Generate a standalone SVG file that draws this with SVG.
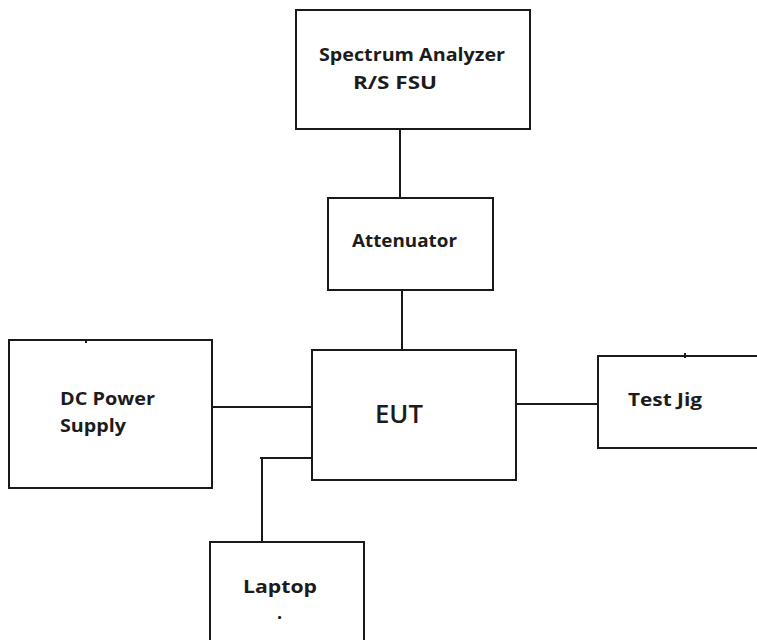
<svg xmlns="http://www.w3.org/2000/svg" width="757" height="640" viewBox="0 0 757 640">
  <style>
    .box { fill: #ffffff; stroke: #1a1a1a; stroke-width: 2; }
    .wire { fill: none; stroke: #1a1a1a; stroke-width: 2; }
    .lbl { font-family: "Open Sans", "Liberation Sans", sans-serif; font-weight: bold; font-size: 18px; fill: #1c1c1c; }
    .big { font-family: "Open Sans", "Liberation Sans", sans-serif; font-weight: 600; font-size: 25px; fill: #1c1c1c; }
  </style>
  <rect width="757" height="640" fill="#ffffff"/>

  <g id="connectors">
    <line class="wire" x1="400" y1="129" x2="400" y2="198"/>
    <line class="wire" x1="402" y1="290" x2="402" y2="350"/>
    <line class="wire" x1="212" y1="407" x2="314" y2="407"/>
    <line class="wire" x1="516" y1="404" x2="600" y2="404"/>
    <polyline class="wire" points="312,458 262,458 262,542"/>
    <line class="wire" x1="260" y1="458" x2="264" y2="458"/>
  </g>

  <g id="spectrum-analyzer">
    <rect class="box" x="296" y="10" width="234" height="119"/>
    <text class="lbl" x="319" y="61" textLength="186" lengthAdjust="spacingAndGlyphs">Spectrum Analyzer</text>
    <text class="lbl" x="353" y="89" textLength="84" lengthAdjust="spacingAndGlyphs">R/S FSU</text>
  </g>

  <g id="attenuator">
    <rect class="box" x="328" y="198" width="165" height="92"/>
    <text class="lbl" x="352" y="247" textLength="105" lengthAdjust="spacingAndGlyphs">Attenuator</text>
  </g>

  <g id="dc-power-supply">
    <rect class="box" x="9" y="340" width="203" height="148"/>
    <line class="wire" x1="86" y1="340" x2="86" y2="343"/>
    <text class="lbl" x="60" y="405" textLength="95" lengthAdjust="spacingAndGlyphs">DC Power</text>
    <text class="lbl" x="60" y="432" textLength="66" lengthAdjust="spacingAndGlyphs">Supply</text>
  </g>

  <g id="eut">
    <rect class="box" x="312" y="350" width="204" height="130"/>
    <text class="big" x="375" y="423" textLength="48" lengthAdjust="spacingAndGlyphs">EUT</text>
  </g>

  <g id="test-jig">
    <path class="box" d="M760,356 H598 V448 H760"/>
    <line class="wire" x1="685" y1="353" x2="685" y2="358"/>
    <text class="lbl" x="628" y="406" textLength="74" lengthAdjust="spacingAndGlyphs">Test Jig</text>
  </g>

  <g id="laptop">
    <path class="box" d="M210,645 V542 H364 V645"/>
    <text class="lbl" x="243" y="593" textLength="74" lengthAdjust="spacingAndGlyphs">Laptop</text>
    <text class="lbl" x="277" y="619" font-size="12">.</text>
  </g>
</svg>
